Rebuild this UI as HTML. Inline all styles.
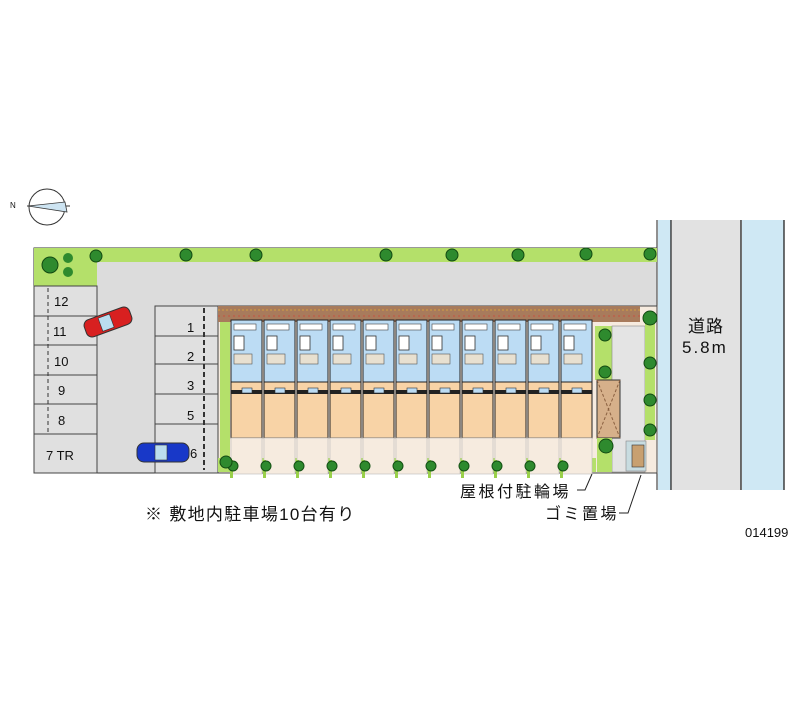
<!DOCTYPE html>
<html><head><meta charset="utf-8"><style>
body{margin:0;background:#fff;}
svg{display:block;}
text{font-family:"Liberation Sans","Noto Sans CJK JP",sans-serif;fill:#111;}
</style></head><body>
<svg width="800" height="727" viewBox="0 0 800 727" xmlns="http://www.w3.org/2000/svg">
<defs>
<g id="unit">
<rect x="1" y="0" width="31" height="62" fill="#bcdcf4" stroke="#222" stroke-width="1"/>
<rect x="1" y="62" width="31" height="56" fill="#f8d3a6" stroke="#222" stroke-width="1"/>
<rect x="4" y="4" width="22" height="6" fill="#fff" stroke="#444" stroke-width="0.6"/>
<rect x="4" y="16" width="10" height="14" fill="#fff" stroke="#333" stroke-width="0.8"/>
<rect x="4" y="34" width="18" height="10" fill="#e8e0d0" stroke="#555" stroke-width="0.6"/>
<rect x="1" y="70" width="31" height="4" fill="#222"/>
<rect x="12" y="68" width="10" height="5" fill="#bcdcf4" stroke="#333" stroke-width="0.6"/>
<rect x="1" y="118" width="31" height="36" fill="#f6ebdf" stroke="#bbb" stroke-width="0.6"/>
<rect x="0" y="140" width="3" height="18" fill="#9ad04a"/>
<circle cx="3" cy="146" r="5" fill="#2e8a2e" stroke="#145014"/>
</g>
<g id="tree"><circle r="6" fill="#2e8a2e" stroke="#124a12"/></g>
</defs>

<circle cx="47" cy="207" r="18" fill="none" stroke="#333"/>
<line x1="27" y1="206" x2="70" y2="206" stroke="#333"/>
<polygon points="28,206 67,212 65,202" fill="#cde4f2" stroke="#333" stroke-width="0.8"/>
<text x="10" y="208" font-size="8">N</text>

<rect x="658" y="220" width="13" height="270" fill="#cfe8f4"/>
<rect x="672" y="220" width="69" height="270" fill="#e2e2e2"/>
<rect x="742" y="220" width="42" height="270" fill="#cfe8f4"/>
<line x1="671" y1="220" x2="671" y2="490" stroke="#222" stroke-width="1.3"/>
<line x1="741" y1="220" x2="741" y2="490" stroke="#222" stroke-width="1.3"/>
<line x1="784" y1="220" x2="784" y2="490" stroke="#222" stroke-width="1.3"/>
<line x1="657" y1="220" x2="657" y2="490" stroke="#222" stroke-width="1"/>
<text x="688" y="332" font-size="17" letter-spacing="1">道路</text>
<text x="682" y="353" font-size="17" letter-spacing="2">5.8m</text>

<rect x="34" y="248" width="623" height="225" fill="#dcdcdc" stroke="#333"/>
<rect x="34" y="248" width="623" height="14" fill="#b4e06a"/>
<rect x="34" y="248" width="63" height="38" fill="#b4e06a"/>
<circle cx="50" cy="265" r="8" fill="#2e8a2e" stroke="#124a12"/>
<circle cx="68" cy="258" r="5" fill="#2e8a2e"/><circle cx="68" cy="272" r="5" fill="#2e8a2e"/>
<use href="#tree" x="96" y="256"/><use href="#tree" x="186" y="255"/><use href="#tree" x="256" y="255"/>
<use href="#tree" x="386" y="255"/><use href="#tree" x="452" y="255"/><use href="#tree" x="518" y="255"/>
<use href="#tree" x="586" y="254"/><use href="#tree" x="650" y="254"/>

<g fill="#e0e0e0" stroke="#444">
<rect x="34" y="286" width="63" height="30"/><rect x="34" y="316" width="63" height="29"/>
<rect x="34" y="345" width="63" height="30"/><rect x="34" y="375" width="63" height="29"/>
<rect x="34" y="404" width="63" height="30"/><rect x="34" y="434" width="63" height="39"/>
</g>
<line x1="48" y1="288" x2="48" y2="432" stroke="#333" stroke-dasharray="4,3"/>
<g font-size="13"><text x="54" y="306">12</text><text x="53" y="336">11</text><text x="54" y="366">10</text><text x="58" y="395">9</text><text x="58" y="425">8</text><text x="46" y="460">7 TR</text></g>

<g fill="#e0e0e0" stroke="#444">
<rect x="155" y="306" width="63" height="30"/><rect x="155" y="336" width="63" height="28"/>
<rect x="155" y="364" width="63" height="30"/><rect x="155" y="394" width="63" height="30"/>
<rect x="155" y="424" width="63" height="49"/>
</g>
<line x1="204" y1="308" x2="204" y2="470" stroke="#333" stroke-width="2" stroke-dasharray="5,3"/>
<g font-size="13"><text x="187" y="332">1</text><text x="187" y="361">2</text><text x="187" y="390">3</text><text x="187" y="420">5</text><text x="190" y="458">6</text></g>

<g transform="rotate(-20 108 322)"><rect x="84" y="313" width="48" height="18" rx="6" fill="#d82020" stroke="#333"/><rect x="100" y="315" width="12" height="14" fill="#bde" stroke="#333" stroke-width="0.6"/></g>
<rect x="137" y="443" width="52" height="19" rx="7" fill="#1838c8" stroke="#333"/>
<rect x="155" y="445" width="12" height="15" fill="#bde" stroke="#333" stroke-width="0.6"/>

<rect x="218" y="306" width="439" height="167" fill="#f6ebdf" stroke="#444"/>
<rect x="218" y="306" width="422" height="16" fill="#a87b5c"/>
<line x1="218" y1="310" x2="640" y2="310" stroke="#d4a040" stroke-dasharray="2,2"/>
<line x1="218" y1="316" x2="640" y2="316" stroke="#c85040" stroke-dasharray="2,3"/>
<rect x="220" y="322" width="10" height="148" fill="#b4e06a"/>
<rect x="218" y="458" width="378" height="14" fill="#b4e06a"/>
<g transform="translate(0,320)">
<use href="#unit" x="230"/><use href="#unit" x="263"/><use href="#unit" x="296"/><use href="#unit" x="329"/>
<use href="#unit" x="362"/><use href="#unit" x="395"/><use href="#unit" x="428"/><use href="#unit" x="461"/>
<use href="#unit" x="494"/><use href="#unit" x="527"/><use href="#unit" x="560"/>
</g>
<use href="#tree" x="226" y="462"/>

<rect x="595" y="326" width="17" height="54" fill="#b4e06a"/>
<use href="#tree" x="605" y="335"/><use href="#tree" x="605" y="372"/>
<rect x="612" y="326" width="33" height="146" fill="#e4e4e4" stroke="#888" stroke-width="0.6"/>
<rect x="597" y="380" width="23" height="58" fill="#d6b08a" stroke="#333"/>
<line x1="597" y1="380" x2="620" y2="438" stroke="#8a6040" stroke-dasharray="3,2"/>
<line x1="620" y1="380" x2="597" y2="438" stroke="#8a6040" stroke-dasharray="3,2"/>
<rect x="597" y="438" width="15" height="34" fill="#b4e06a"/>
<circle cx="606" cy="446" r="7" fill="#2e8a2e" stroke="#124a12"/>
<rect x="626" y="441" width="20" height="30" fill="#c8dce0" stroke="#888" stroke-width="0.6"/>
<rect x="632" y="445" width="12" height="22" fill="#c8a070" stroke="#333" stroke-width="0.6"/>
<rect x="645" y="318" width="10" height="122" fill="#b4e06a"/>
<circle cx="650" cy="318" r="7" fill="#2e8a2e" stroke="#124a12"/>
<use href="#tree" x="650" y="363"/><use href="#tree" x="650" y="400"/><use href="#tree" x="650" y="430"/>

<text x="145" y="520" font-size="17" letter-spacing="1.3">※ 敷地内駐車場10台有り</text>
<text x="460" y="497" font-size="16" letter-spacing="2.5">屋根付駐輪場</text>
<text x="545" y="519" font-size="16" letter-spacing="2.5">ゴミ置場</text>
<path d="M577,490 L585,490 L592,474" fill="none" stroke="#222"/>
<path d="M619,513 L628,513 L641,475" fill="none" stroke="#222"/>
<text x="745" y="537" font-size="13">014199</text>
</svg>
</body></html>
